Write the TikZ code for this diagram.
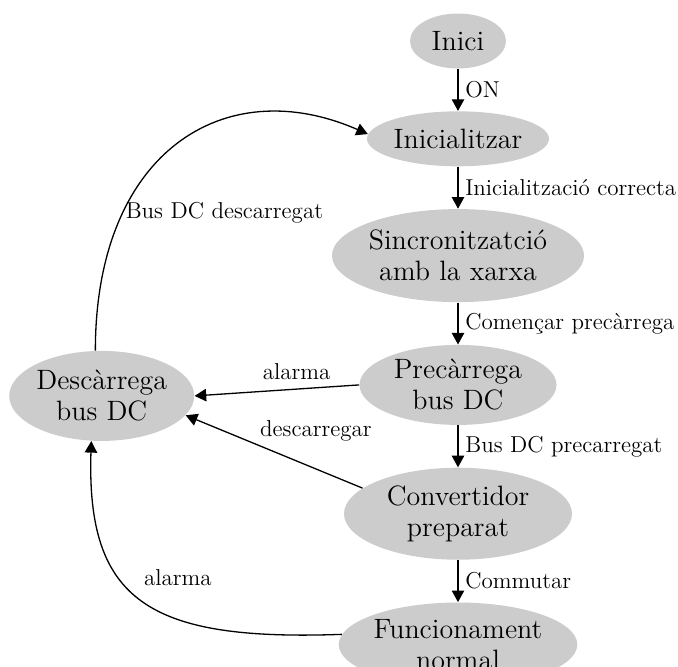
\documentclass[tikz,border=0pt]{standalone}
\usepackage{tikz}
\usetikzlibrary{shapes.geometric, arrows.meta, positioning}
\definecolor{statefill}{gray}{0.8}

\begin{document}
\begin{tikzpicture}[
        node distance=21pt,
        state node/.style={
            ellipse,
            fill=statefill,
            inner sep=0pt,
            align=center,
            font=\fontsize{14}{15.5}\selectfont
        },
        flow/.style={
            -{Triangle[length=5.8pt, width=6.2pt]},
            line width=0.65pt
        },
        edge_label/.style={
            font=\fontsize{11.5}{13}\selectfont
        }
    ]
        \useasboundingbox (-229pt,-312.5pt) rectangle (110pt,20.5pt);

        % --- STATES: main column ---
        \node[state node, minimum width=48pt, minimum height=27.5pt] (inici) {Inici};
        \node[state node, below=of inici, minimum width=89.5pt, minimum height=27.5pt] (init) {Inicialitzar};
        \node[state node, below=of init, minimum width=114pt, minimum height=46.5pt] (sync) {Sincronitzatció\\amb la xarxa};
        \node[state node, below=of sync, minimum width=98.5pt, minimum height=40pt] (prec) {Precàrrega\\bus DC};
        \node[state node, below=of prec, minimum width=114pt, minimum height=46pt] (conv) {Convertidor\\preparat};
        \node[state node, below=of conv, minimum width=114.5pt, minimum height=42pt] (func) {Funcionament\\normal};

        % discharge state on the left
        \node[state node, left=82.25pt of prec, yshift=-5.5pt, minimum width=91.5pt, minimum height=45pt] (desc) {Descàrrega\\bus DC};

        % --- NORMAL SEQUENCE ---
        \draw[flow] (inici) -- (init) node[midway, right, edge_label] {ON};
        \draw[flow] (init) -- (sync) node[midway, right, edge_label] {Inicialització correcta};
        \draw[flow] (sync) -- (prec) node[midway, right, edge_label] {Començar precàrrega};
        \draw[flow] (prec) -- (conv) node[midway, right, edge_label] {Bus DC precarregat};
        \draw[flow] (conv) -- (func) node[midway, right, edge_label] {Commutar};

        % --- TRANSITIONS INTO DISCHARGE ---
        \draw[flow] (prec.west) -- (desc.east)
            node[pos=0.38, above, yshift=1pt, edge_label] {alarma};
        \draw[flow] (conv.165) -- (desc.-13)
            node[pos=0.62, anchor=south west, yshift=-3pt, edge_label] {descarregar};
        \draw[flow] (func.175) .. controls +(-96.5pt,-3.5pt) and +(-2.5pt,-80pt) .. (desc.257)
            node[pos=0.6, right=7.5pt, yshift=1.5pt, edge_label] {alarma};

        % back to initialisation
        \draw[flow] (desc.98) .. controls +(0,99pt) and +(-72pt,31.5pt) .. (init.177)
            node[pos=0.28, anchor=west, inner sep=1pt, edge_label] {Bus DC descarregat};

\end{tikzpicture}
\end{document}
